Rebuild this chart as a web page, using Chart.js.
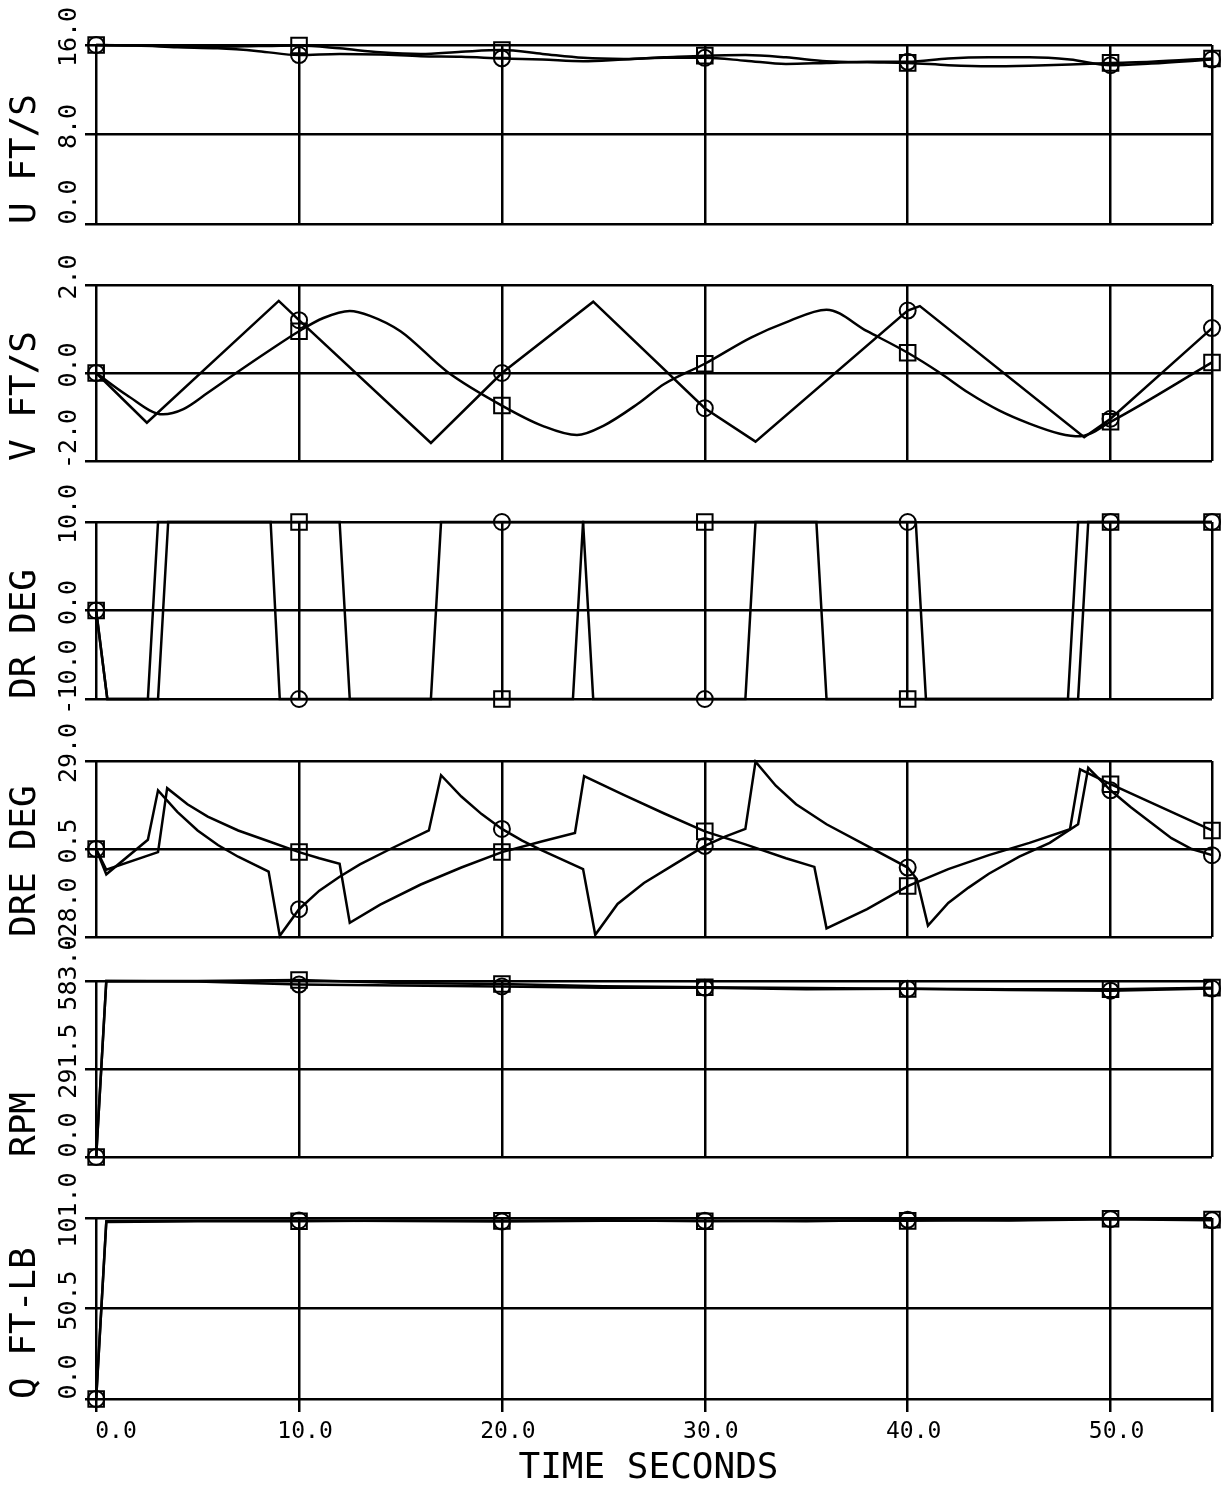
<!DOCTYPE html>
<html lang="en">
<head>
    <meta charset="UTF-8">
    <title>Time histories</title>
    <script src="https://cdn.jsdelivr.net/npm/chart.js"></script>
    <style>
        body { margin: 0; background: #fff; overflow: hidden; }
        #wrap { position: relative; width: 1228px; height: 1492px; background: #fff; overflow: hidden; }
        .panel { position: absolute; left: 0; width: 1228px; }
    </style>
</head>
<body>
    <div id="wrap"></div>
    <script>
        // time of the markers and of the vertical grid lines (55 = right border)
        const markerTimes = [0, 10, 20, 30, 40, 50, 55];
        const xGridTicks = [0, 10, 20, 30, 40, 50, 55];

        // U FT/S
        const uCircle = [[0, 16.0], [2, 15.95], [4, 15.8], [6, 15.7], [8, 15.45], [10, 15.1], [12, 15.2], [14, 15.15], [16, 15.0], [18, 14.95], [20, 14.8], [22, 14.7], [24, 14.55], [26, 14.7], [28, 14.85], [30, 14.85], [32, 14.6], [34, 14.3], [36, 14.4], [38, 14.5], [40, 14.5], [42, 14.8], [44, 14.9], [46, 14.9], [48, 14.7], [50, 14.2], [52, 14.35], [55, 14.7]];
        const uSquare = [[0, 16.0], [2, 15.95], [4, 15.9], [6, 15.85], [8, 15.9], [10, 15.95], [12, 15.7], [14, 15.35], [16, 15.2], [18, 15.4], [20, 15.55], [22, 15.2], [24, 14.85], [26, 14.75], [28, 14.9], [30, 15.05], [32, 15.1], [34, 14.9], [36, 14.55], [38, 14.45], [40, 14.4], [42, 14.2], [44, 14.1], [46, 14.15], [48, 14.25], [50, 14.4], [52, 14.5], [55, 14.8]];

        // V FT/S
        const vCircle = [[0, 0], [2.5, -1.13], [9, 1.64], [10, 1.2], [16.5, -1.59], [20, 0], [24.5, 1.62], [30, -0.8], [32.5, -1.56], [40, 1.42], [40.6, 1.52], [48.7, -1.46], [50, -1.04], [55, 1.02]];
        const vSquare = [[0, 0], [1.5, -0.5], [3.3, -0.94], [4.3, -0.82], [5.5, -0.45], [6.9, 0], [8.5, 0.5], [10, 0.95], [11.2, 1.25], [12.5, 1.41], [13.5, 1.3], [15, 0.95], [17.3, 0.03], [20, -0.74], [22, -1.2], [23.7, -1.41], [25, -1.2], [26.7, -0.7], [28, -0.25], [30, 0.21], [32.3, 0.81], [34, 1.15], [36, 1.44], [38, 0.95], [40, 0.46], [41.6, 0], [43, -0.45], [44.5, -0.85], [46, -1.15], [47.5, -1.38], [48.5, -1.44], [50, -1.11], [55, 0.24]];

        // DR DEG
        const drCircle = [[0, 0], [0.55, -10], [2.55, -10], [3.05, 10], [8.6, 10], [9.05, -10], [10, -10], [16.5, -10], [17, 10], [20, 10], [24, 10], [24.5, -10], [30, -10], [32, -10], [32.5, 10], [40, 10], [40.4, 10], [40.9, -10], [48.4, -10], [48.9, 10], [50, 10], [55, 10]];
        const drSquare = [[0, 0], [0.55, -10], [3.05, -10], [3.55, 10], [10, 10], [12, 10], [12.5, -10], [20, -10], [23.5, -10], [24, 10], [30, 10], [35.5, 10], [36, -10], [40, -10], [47.9, -10], [48.4, 10], [50, 10], [55, 10]];

        // DRE DEG
        const dreCircle = [[0, 0.5], [0.5, -7.7], [2.55, 3.5], [3.05, 19.5], [4, 12.5], [5, 6.5], [6, 1.8], [7, -2], [8.5, -6.8], [9.05, -27.6], [10, -19], [11, -13], [12, -8.5], [13, -4.5], [14.5, 0.5], [16.4, 6.5], [17, 24.4], [18, 17.5], [19, 11.8], [20, 7.0], [21, 3.2], [22, 0], [23, -3], [24, -6], [24.6, -27.3], [25.7, -17.3], [27, -10.5], [28.5, -4.5], [30, 1.5], [31, 4.5], [32, 7.0], [32.5, 28.8], [33.5, 21], [34.5, 15], [36, 8.5], [38, 1.5], [40, -5.5], [40.45, -9.2], [41, -24.3], [42, -17], [43, -12], [44, -7.5], [45.5, -2], [47, 2.5], [48.4, 8.5], [48.9, 26.8], [50, 19.5], [51, 14], [52, 9], [53, 4], [54, 0.5], [55, -1.5]];
        const dreSquare = [[0, 0.5], [0.5, -6.2], [3.05, -0.5], [3.5, 20.2], [4.5, 15], [5.5, 11], [7, 6.5], [8.5, 3], [10, -0.5], [11, -2.5], [12, -4.3], [12.5, -23.4], [14, -17.5], [16, -11], [18, -5.5], [20, -0.5], [22, 3], [23.6, 5.7], [24.05, 24.1], [26, 18], [28, 12], [30, 6.2], [32, 2.0], [34, -2.5], [35.4, -5.3], [36, -25.2], [38, -19], [40, -11.5], [42, -6], [44, -1.5], [46, 2.5], [48, 6.9], [48.5, 26.3], [50, 21.5], [52, 15.5], [55, 6.5]];

        // RPM
        const rpmCircle = [[0, 0], [0.5, 583], [5, 581], [10, 571], [15, 568], [20, 565], [25, 561], [30, 561], [35, 556], [40, 557], [45, 553], [50, 551], [55, 558]];
        const rpmSquare = [[0, 0], [0.5, 583], [5, 583], [10, 586], [15, 576], [20, 573], [25, 566], [30, 562], [35, 560], [40, 557], [45, 556], [50, 556], [55, 561]];

        // Q FT-LB
        const qCircle = [[0, 0], [0.5, 99.2], [5, 99.5], [10, 99.6], [15, 99.3], [20, 99.0], [25, 99.4], [30, 99.5], [35, 99.2], [40, 100.0], [45, 99.6], [50, 100.3], [55, 99.7]];
        const qSquare = [[0, 0], [0.5, 98.8], [5, 99.2], [10, 99.2], [15, 99.6], [20, 99.4], [25, 99.7], [30, 99.2], [35, 99.6], [40, 99.4], [45, 99.9], [50, 100.6], [55, 100.1]];

        Chart.defaults.font.family = '"DejaVu Sans Mono", monospace';
        Chart.defaults.color = '#000';

        // line with hollow markers only at the marker times
        function series(points, style, smooth) {
            return {
                data: points.map(p => ({ x: p[0], y: p[1] })),
                borderColor: '#000',
                borderWidth: 2.5,
                pointStyle: style,
                pointRadius: c => (c.raw && markerTimes.includes(c.raw.x)) ? (style === 'rect' ? 11 : 8) : 0,
                pointHoverRadius: 0,
                pointBorderColor: '#000',
                pointBorderWidth: 2,
                pointBackgroundColor: 'rgba(0,0,0,0)',
                tension: 0,
                cubicInterpolationMode: smooth ? 'monotone' : 'default',
                fill: false,
                clip: false
            };
        }

        // rotated y tick labels
        const yTickLabels = {
            id: 'yTickLabels',
            afterDraw(chart) {
                const ys = chart.scales.y;
                const ctx = chart.ctx;
                ctx.save();
                ctx.font = '25px "DejaVu Sans Mono"';
                ctx.fillStyle = '#000';
                ctx.textAlign = 'center';
                ctx.textBaseline = 'middle';
                ys.ticks.forEach((t, i) => {
                    const py = ys.getPixelForValue(t.value) - (i === 0 ? 22 : 8);
                    ctx.save();
                    ctx.translate(69, py);
                    ctx.rotate(-Math.PI / 2);
                    ctx.fillText(t.value.toFixed(1), 0, 0);
                    ctx.restore();
                });
                ctx.restore();
            }
        };

        const panels = [
            { title: 'U FT/S', top: 45, bottom: 227, min: 0, max: 16, sets: [series(uCircle, 'circle', true), series(uSquare, 'rect', true)] },
            { title: 'V FT/S', top: 285, bottom: 464, min: -2, max: 2, sets: [series(vCircle, 'circle', false), series(vSquare, 'rect', true)] },
            { title: 'DR DEG', top: 522, bottom: 702, min: -10, max: 10, sets: [series(drCircle, 'circle', false), series(drSquare, 'rect', false)] },
            { title: 'DRE DEG', top: 761, bottom: 940, min: -28, max: 29, sets: [series(dreCircle, 'circle', false), series(dreSquare, 'rect', false)] },
            { title: 'RPM', top: 981, bottom: 1160, min: 0, max: 583, sets: [series(rpmCircle, 'circle', false), series(rpmSquare, 'rect', false)] },
            { title: 'Q FT-LB', top: 1218, bottom: 1399, min: 0, max: 101, sets: [series(qCircle, 'circle', false), series(qSquare, 'rect', false)] }
        ];

        const wrap = document.getElementById('wrap');

        panels.forEach((p, idx) => {
            const last = idx === panels.length - 1;
            const padTop = 50;
            const divTop = p.top - padTop;
            const divHeight = last ? 1492 - divTop : p.bottom - p.top + padTop + 10;
            const div = document.createElement('div');
            div.className = 'panel';
            div.style.top = divTop + 'px';
            div.style.height = divHeight + 'px';
            const canvas = document.createElement('canvas');
            div.appendChild(canvas);
            wrap.appendChild(div);

            const mid = (p.min + p.max) / 2;

            new Chart(canvas, {
                type: 'line',
                data: { datasets: p.sets },
                plugins: [yTickLabels],
                options: {
                    responsive: true,
                    maintainAspectRatio: false,
                    animation: false,
                    events: [],
                    layout: { padding: { top: padTop, bottom: last ? 0 : 10, left: 0, right: 16 } },
                    plugins: { legend: { display: false }, tooltip: { enabled: false } },
                    scales: {
                        x: {
                            type: 'linear',
                            min: -0.55,
                            max: 55,
                            afterBuildTicks: s => { s.ticks = xGridTicks.map(v => ({ value: v })); },
                            afterFit: s => { s.height = last ? 93 : 0; },
                            ticks: {
                                display: last,
                                autoSkip: false,
                                maxRotation: 0,
                                padding: 6,
                                labelOffset: 6,
                                font: { size: 23 },
                                color: '#000',
                                // the plotter puts the first label a little to the right
                                callback: v => v === 55 ? '' : (v === 0 ? '  0.0' : v.toFixed(1))
                            },
                            grid: { color: '#000', lineWidth: 2.5, drawTicks: last, tickLength: 13, tickColor: '#000', tickWidth: 2.5 },
                            border: { display: false },
                            title: { display: last, text: 'TIME SECONDS', font: { size: 36 }, color: '#000', padding: { top: 0, bottom: 2 } }
                        },
                        y: {
                            type: 'linear',
                            min: p.min,
                            max: p.max,
                            afterBuildTicks: s => { s.ticks = [p.min, mid, p.max].map(v => ({ value: v })); },
                            afterFit: s => { s.width = 85; },
                            ticks: { display: false },
                            grid: { color: '#000', lineWidth: 2.5, drawTicks: false },
                            border: { display: false },
                            title: { display: true, text: p.title, align: 'start', font: { size: 36 }, color: '#000', padding: { top: 4, bottom: 0 } }
                        }
                    }
                }
            });
        });
    </script>
</body>
</html>
